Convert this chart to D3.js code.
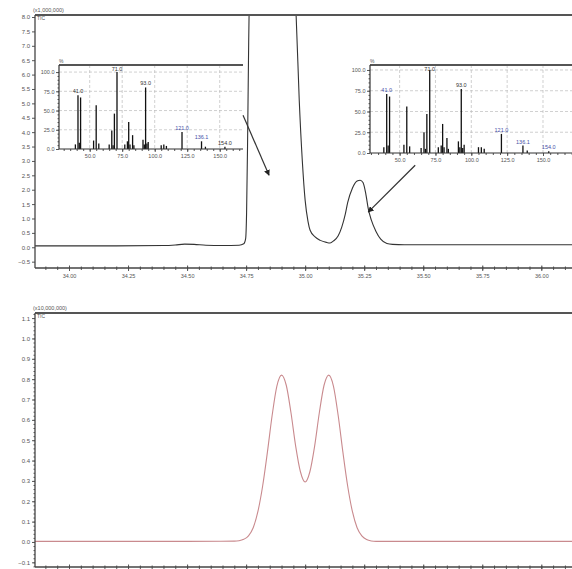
<!DOCTYPE html>
<html>
<head>
<meta charset="utf-8">
<script src="https://cdn.jsdelivr.net/npm/d3@7"></script>
<style>
  body { margin: 0; background: #fff; }
  text { font-family: "Liberation Sans", Arial, sans-serif; }
</style>
</head>
<body>
<script>
const width = 572;
const height = 569;

// ---- data ----
// TIC chromatogram (minutes, x1,000,000); main peak runs off scale
const ticTimes = [33.856, 34.0, 34.2, 34.4, 34.45, 34.49, 34.53, 34.58, 34.65, 34.72, 34.74,
  34.748, 34.752, 34.756, 34.76, 34.765, 34.78, 34.85, 34.92, 34.955, 34.962, 34.975, 34.988,
  35.0, 35.012, 35.021, 35.042, 35.064, 35.09, 35.106, 35.12, 35.14, 35.155, 35.17, 35.18,
  35.2, 35.22, 35.233, 35.245, 35.257, 35.267, 35.28, 35.3, 35.32, 35.346, 35.37, 35.42,
  35.6, 35.9, 36.13];
const ticValues = [0.05, 0.05, 0.05, 0.06, 0.08, 0.11, 0.1, 0.07, 0.06, 0.07, 0.12,
  0.3, 1.2, 3.5, 6.5, 9.5, 12, 14, 12, 9, 8, 5.1, 3.0,
  1.63, 0.9, 0.59, 0.36, 0.24, 0.17, 0.15, 0.22, 0.4, 0.7, 1.15, 1.55,
  2.05, 2.3, 2.33, 2.25, 1.85, 1.35, 0.95, 0.55, 0.28, 0.13, 0.1, 0.09,
  0.09, 0.09, 0.09];

// lower trace (x10,000,000)
const eicTimes = [33.856, 34.5, 34.7, 34.72, 34.74, 34.76, 34.78, 34.8, 34.82, 34.84, 34.86, 34.88,
  34.9, 34.92, 34.94, 34.96, 34.98, 35.0, 35.02, 35.04, 35.06, 35.08, 35.1, 35.12, 35.14,
  35.16, 35.18, 35.2, 35.22, 35.24, 35.26, 35.28, 35.3, 35.6, 36.13];
const eicValues = [0.003, 0.003, 0.004, 0.006, 0.013, 0.03, 0.07, 0.15, 0.275, 0.44, 0.62, 0.765,
  0.82, 0.77, 0.635, 0.47, 0.345, 0.295, 0.345, 0.47, 0.635, 0.77, 0.82, 0.765, 0.62,
  0.44, 0.275, 0.15, 0.07, 0.03, 0.012, 0.005, 0.003, 0.003, 0.003];

const timeTicks = [34.0, 34.25, 34.5, 34.75, 35.0, 35.25, 35.5, 35.75, 36.0];
const ticYTicks = [-0.5, 0, 0.5, 1, 1.5, 2, 2.5, 3, 3.5, 4, 4.5, 5, 5.5, 6, 6.5, 7, 7.5, 8];
const eicYTicks = [-0.1, 0, 0.1, 0.2, 0.3, 0.4, 0.5, 0.6, 0.7, 0.8, 0.9, 1.0, 1.1];

// mass spectra (m/z, relative %)
const specMz = [39, 41, 42, 43, 53, 55, 57, 65, 67, 68, 69, 71, 77, 79, 80, 81, 83, 84,
  91, 92, 93, 94, 95, 105, 107, 109, 121, 136, 139, 154];
const leftPct = [6, 70, 8, 67, 11, 57, 7, 6, 24, 5, 46, 100, 6, 10, 35, 6, 18, 5,
  12, 6, 80, 7, 9, 5, 6, 4, 22, 10, 3, 3];
const rightPct = [7, 71, 9, 68, 10, 56, 8, 6, 25, 5, 47, 100, 7, 9, 35, 7, 18, 5,
  14, 7, 77, 6, 10, 7, 7, 5, 23, 9, 3, 2];
const mzTicks = [50, 75, 100, 125, 150];
const pctTicks = [0, 25, 50, 75, 100];
const peakLabelMz = [41, 71, 93, 121, 136, 154];
const peakLabelText = ["41.0", "71.0", "93.0", "121.0", "136.1", "154.0"];

let svg = d3.select("body").append("svg")
  .attr("width", width)
  .attr("height", height)
  .style("display", "block");

const axisColor = "#555";
const labelColor = "#555";

function styleAxis(g, size) {
  g.select(".domain").remove();
  g.selectAll("line").attr("stroke", axisColor);
  g.selectAll("text")
    .attr("fill", labelColor)
    .style("font-size", size || "6px");
}

// ---------- top panel ----------
let xTop = d3.scaleLinear().domain([33.856, 36.13]).range([35, 572]);
let yTop = d3.scaleLinear().domain([-0.72, 8.07]).range([268, 15]);

svg.append("clipPath").attr("id", "clipTop")
  .append("rect").attr("x", 35).attr("y", 15).attr("width", 537).attr("height", 253);

let topData = ticTimes.map((t, i) => [t, ticValues[i]]);

svg.append("path")
  .datum(topData)
  .attr("clip-path", "url(#clipTop)")
  .attr("fill", "none")
  .attr("stroke", "#333")
  .attr("stroke-width", 1.1)
  .attr("d", d3.line().x((d) => xTop(d[0])).y((d) => yTop(d[1])).curve(d3.curveMonotoneX));

// left axis
let leftTop = svg.append("g").attr("transform", `translate(35,0)`);
leftTop.call(d3.axisLeft(yTop).tickValues(ticYTicks).tickSize(3).tickPadding(2)
  .tickFormat(d3.format(".1f")));
styleAxis(leftTop);

// bottom axis, minor then major
let minorTimes = d3.range(33.9, 36.13, 0.05);
let bottomTopMinor = svg.append("g").attr("transform", `translate(0,268)`);
bottomTopMinor.call(d3.axisBottom(xTop).tickValues(minorTimes).tickSize(2).tickFormat(""));
styleAxis(bottomTopMinor);
bottomTopMinor.selectAll("line").attr("y1", -1.5);

let bottomTop = svg.append("g").attr("transform", `translate(0,268)`);
bottomTop.call(d3.axisBottom(xTop).tickValues(timeTicks).tickSize(3).tickPadding(3)
  .tickFormat(d3.format(".2f")));
styleAxis(bottomTop, "5.5px");
bottomTop.selectAll("line").attr("y1", -2.5);

// frame lines
svg.append("line").attr("x1", 35).attr("x2", 572).attr("y1", 15).attr("y2", 15)
  .attr("stroke", "#555").attr("stroke-width", 2);
svg.append("line").attr("x1", 35).attr("x2", 35).attr("y1", 15).attr("y2", 268)
  .attr("stroke", "#444").attr("stroke-width", 1.3);
svg.append("line").attr("x1", 35).attr("x2", 572).attr("y1", 268).attr("y2", 268)
  .attr("stroke", "#444").attr("stroke-width", 1.3);

svg.append("text").attr("x", 33).attr("y", 12).text("(x1,000,000)")
  .style("font-size", "5.5px").attr("fill", labelColor);
svg.append("text").attr("x", 37).attr("y", 19.5).text("TIC")
  .style("font-size", "5px").attr("fill", labelColor);

// ---------- spectrum insets ----------
function drawInset(opts) {
  let { x0, x1, y0, y1, mzDomain, pctMax, pct, blue } = opts;
  let xs = d3.scaleLinear().domain(mzDomain).range([x0, x1]);
  let ys = d3.scaleLinear().domain([0, pctMax]).range([y1, y0]);
  let g = svg.append("g");

  g.append("rect").attr("x", x0).attr("y", y0).attr("width", x1 - x0).attr("height", y1 - y0)
    .attr("fill", "#fff");

  // dashed grid
  g.selectAll(".hgrid").data(pctTicks.filter((d) => d > 0)).join("line")
    .attr("x1", x0).attr("x2", x1)
    .attr("y1", (d) => ys(d)).attr("y2", (d) => ys(d))
    .attr("stroke", "#bbb").attr("stroke-width", 0.7).attr("stroke-dasharray", "3,2");
  g.selectAll(".vgrid").data(mzTicks).join("line")
    .attr("x1", (d) => xs(d)).attr("x2", (d) => xs(d))
    .attr("y1", y0).attr("y2", y1)
    .attr("stroke", "#bbb").attr("stroke-width", 0.7).attr("stroke-dasharray", "3,2");

  // bars
  g.selectAll(".bar").data(specMz.map((m, i) => [m, pct[i]])).join("line")
    .attr("x1", (d) => xs(d[0])).attr("x2", (d) => xs(d[0]))
    .attr("y1", ys(0)).attr("y2", (d) => ys(d[1]))
    .attr("stroke", "#111").attr("stroke-width", 1.3);

  // peak labels
  g.selectAll(".plab").data(peakLabelMz).join("text")
    .attr("x", (d) => xs(d))
    .attr("y", (d) => Math.max(ys(pct[specMz.indexOf(d)]) - 2, y0 + 5.5))
    .attr("text-anchor", "middle")
    .style("font-size", "5.5px")
    .attr("fill", (d, i) => (blue.includes(peakLabelText[i]) ? "#4650a8" : "#333"))
    .text((d, i) => peakLabelText[i]);

  // axes
  let gy = g.append("g").attr("transform", `translate(${x0},0)`);
  gy.call(d3.axisLeft(ys).tickValues(d3.range(0, 101, 5)).tickSize(1.5).tickFormat(""));
  styleAxis(gy);
  let gy2 = g.append("g").attr("transform", `translate(${x0},0)`);
  gy2.call(d3.axisLeft(ys).tickValues(pctTicks).tickSize(3).tickPadding(1.5)
    .tickFormat(d3.format(".1f")));
  styleAxis(gy2, "5.5px");

  let gx = g.append("g").attr("transform", `translate(0,${y1})`);
  gx.call(d3.axisBottom(xs).tickValues(d3.range(30, 171, 5).filter((d) => xs(d) >= x0 && xs(d) <= x1))
    .tickSize(2).tickFormat(""));
  styleAxis(gx);
  let gx2 = g.append("g").attr("transform", `translate(0,${y1})`);
  gx2.call(d3.axisBottom(xs).tickValues(mzTicks).tickSize(3).tickPadding(2)
    .tickFormat(d3.format(".1f")));
  styleAxis(gx2, "5.5px");

  g.append("line").attr("x1", x0).attr("x2", x1).attr("y1", y0).attr("y2", y0)
    .attr("stroke", "#555").attr("stroke-width", 1.8);
  g.append("line").attr("x1", x0).attr("x2", x0).attr("y1", y0).attr("y2", y1)
    .attr("stroke", "#333").attr("stroke-width", 1.2);
  g.append("line").attr("x1", x0).attr("x2", x1).attr("y1", y1).attr("y2", y1)
    .attr("stroke", "#333").attr("stroke-width", 1.2);

  g.append("text").attr("x", x0).attr("y", y0 - 2).text("%")
    .style("font-size", "5px").attr("fill", labelColor);
}

drawInset({ x0: 59, x1: 243, y0: 65, y1: 149, mzDomain: [26.4, 167.9], pctMax: 109.2,
  pct: leftPct, blue: ["121.0", "136.1"] });
drawInset({ x0: 370, x1: 580, y0: 65, y1: 153, mzDomain: [29.35, 175.8], pctMax: 106,
  pct: rightPct, blue: ["41.0", "121.0", "136.1", "154.0"] });

// arrows from the spectra to their peaks (data coordinates)
svg.append("defs").append("marker")
  .attr("id", "arrow").attr("viewBox", "0 0 10 10").attr("refX", 9).attr("refY", 5)
  .attr("markerWidth", 5).attr("markerHeight", 5).attr("orient", "auto")
  .append("path").attr("d", "M0,0 L10,5 L0,10 z").attr("fill", "#222");

const arrows = [
  [[34.737, 4.59], [34.847, 2.5]],
  [[35.466, 2.85], [35.267, 1.22]],
];
svg.selectAll(".arrow").data(arrows).join("line")
  .attr("x1", (d) => xTop(d[0][0])).attr("y1", (d) => yTop(d[0][1]))
  .attr("x2", (d) => xTop(d[1][0])).attr("y2", (d) => yTop(d[1][1]))
  .attr("stroke", "#333").attr("stroke-width", 1.2)
  .attr("marker-end", "url(#arrow)");

// ---------- bottom panel ----------
let xBot = d3.scaleLinear().domain([33.856, 36.13]).range([35, 572]);
let yBot = d3.scaleLinear().domain([-0.123, 1.125]).range([567, 313]);

svg.append("path")
  .datum(eicTimes.map((t, i) => [t, eicValues[i]]))
  .attr("fill", "none")
  .attr("stroke", "#c98a8e")
  .attr("stroke-width", 1.1)
  .attr("d", d3.line().x((d) => xBot(d[0])).y((d) => yBot(d[1])).curve(d3.curveMonotoneX));

let leftBotMinor = svg.append("g").attr("transform", `translate(35,0)`);
leftBotMinor.call(d3.axisLeft(yBot).tickValues(d3.range(-0.12, 1.121, 0.02)).tickSize(1.5)
  .tickFormat(""));
styleAxis(leftBotMinor);
let leftBot = svg.append("g").attr("transform", `translate(35,0)`);
leftBot.call(d3.axisLeft(yBot).tickValues(eicYTicks).tickSize(3).tickPadding(2)
  .tickFormat(d3.format(".1f")));
styleAxis(leftBot);

// bottom time axis: its labels fall below the picture edge, so only ticks are drawn
let bottomBotMinor = svg.append("g").attr("transform", `translate(0,567)`);
bottomBotMinor.call(d3.axisBottom(xBot).tickValues(minorTimes).tickSize(2).tickFormat(""));
styleAxis(bottomBotMinor);
bottomBotMinor.selectAll("line").attr("y1", -1.5);
let bottomBot = svg.append("g").attr("transform", `translate(0,567)`);
bottomBot.call(d3.axisBottom(xBot).tickValues(timeTicks).tickSize(3).tickFormat(""));
styleAxis(bottomBot);
bottomBot.selectAll("line").attr("y1", -2.5);

svg.append("line").attr("x1", 35).attr("x2", 572).attr("y1", 313).attr("y2", 313)
  .attr("stroke", "#555").attr("stroke-width", 2);
svg.append("line").attr("x1", 35).attr("x2", 35).attr("y1", 313).attr("y2", 567)
  .attr("stroke", "#444").attr("stroke-width", 1.3);
svg.append("line").attr("x1", 35).attr("x2", 572).attr("y1", 567).attr("y2", 567)
  .attr("stroke", "#444").attr("stroke-width", 1.3);

svg.append("text").attr("x", 33).attr("y", 310).text("(x10,000,000)")
  .style("font-size", "5.5px").attr("fill", labelColor);
svg.append("text").attr("x", 37).attr("y", 317.5).text("TIC")
  .style("font-size", "5px").attr("fill", labelColor);
</script>
</body>
</html>
